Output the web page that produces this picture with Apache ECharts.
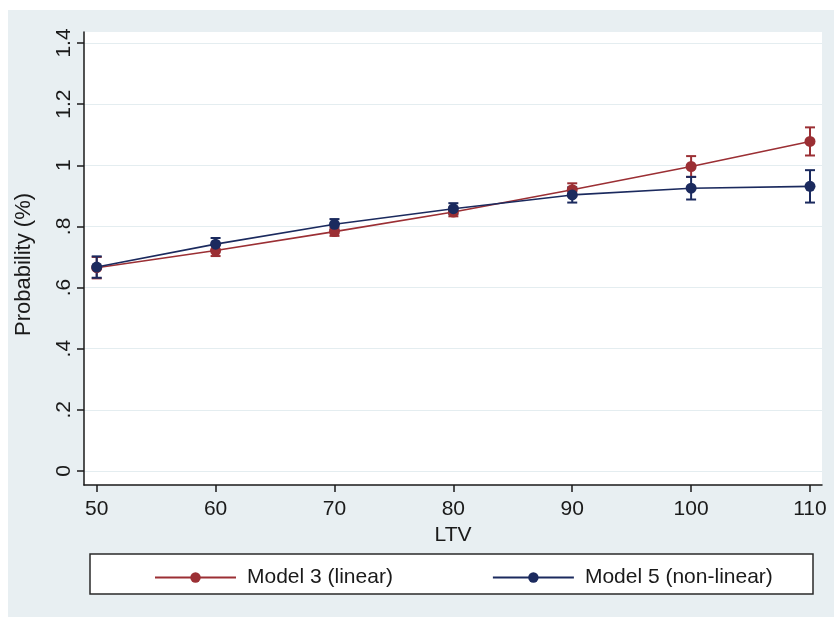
<!DOCTYPE html>
<html>
<head>
<meta charset="utf-8">
<script src="https://cdn.jsdelivr.net/npm/echarts@6/dist/echarts.min.js"></script>
<style>html,body{margin:0;padding:0;background:#fff}#main{width:834px;height:618px}</style>
</head>
<body>
<div id="main"></div>
<script>
// LTV levels on the x axis
var ltv = [50, 60, 70, 80, 90, 100, 110];
// predicted probability and CI half-widths
var model3 = [0.665, 0.721, 0.783, 0.847, 0.920, 0.996, 1.078];
var model3Err = [0.035, 0.018, 0.014, 0.014, 0.021, 0.034, 0.046];
var model5 = [0.667, 0.742, 0.807, 0.858, 0.903, 0.925, 0.931];
var model5Err = [0.035, 0.020, 0.017, 0.018, 0.025, 0.037, 0.053];
var yTicks = [0, 0.2, 0.4, 0.6, 0.8, 1, 1.2, 1.4];
var yTickLabels = ['0', '.2', '.4', '.6', '.8', '1', '1.2', '1.4'];
var seriesNames = ['Model 3 (linear)', 'Model 5 (non-linear)'];

var red = '#9b2f34', navy = '#1b2a5e';
var font = '"Liberation Sans", Arial, sans-serif';

function pts(vals) { return ltv.map(function(x, i) { return [x, vals[i]] }) }
function bars(vals, errs) { return ltv.map(function(x, i) { return [x, vals[i] - errs[i], vals[i] + errs[i]] }) }
function errorBar(color) {
    return function(params, api) {
        var lo = api.coord([api.value(0), api.value(1)]), hi = api.coord([api.value(0), api.value(2)]), w = 5
        var st = {stroke: color, lineWidth: 2}
        return {type: 'group', children: [
            {type: 'line', shape: {x1: lo[0], y1: lo[1], x2: hi[0], y2: hi[1]}, style: st},
            {type: 'line', shape: {x1: lo[0] - w, y1: lo[1], x2: lo[0] + w, y2: lo[1]}, style: st},
            {type: 'line', shape: {x1: hi[0] - w, y1: hi[1], x2: hi[0] + w, y2: hi[1]}, style: st},
        ]}
    }
}

var chart = echarts.init(document.getElementById('main'), null, {renderer: 'canvas'});
chart.setOption({
    backgroundColor: '#ffffff',
    animation: false,
    textStyle: {fontFamily: font},
    graphic: [
        {type: 'rect', z: -10, silent: true, shape: {x: 8, y: 10, width: 826, height: 607}, style: {fill: '#e8eff2'}},
        {type: 'rect', z: -5, silent: true, shape: {x: 90, y: 554, width: 723, height: 40}, style: {fill: '#ffffff', stroke: '#2a2a2a', lineWidth: 1.5}},
    ],
    grid: {left: 84, top: 32, right: 12, bottom: 133, show: true, backgroundColor: '#ffffff', borderWidth: 0, outerBoundsMode: 'none', containLabel: false},
    legend: {
        data: seriesNames, left: 149, top: 562, itemWidth: 81, itemHeight: 13, itemGap: 99, z: 10,
        textStyle: {fontSize: 21, color: '#1a1a1a', fontFamily: font, padding: [0, 0, 0, 6]},
    },
    xAxis: {
        type: 'value', min: 48.93, max: 111.01,
        name: 'LTV', nameLocation: 'middle', nameGap: 34,
        nameTextStyle: {fontSize: 21, color: '#1a1a1a', fontFamily: font},
        axisLine: {onZero: false, lineStyle: {color: '#1a1a1a', width: 1.5}},
        axisTick: {customValues: ltv, length: 7, lineStyle: {color: '#1a1a1a', width: 1.5}},
        axisLabel: {customValues: ltv, margin: 14, fontSize: 21, color: '#1a1a1a', fontFamily: font},
        splitLine: {show: false},
    },
    yAxis: {
        type: 'value', min: -0.046, max: 1.436,
        name: 'Probability (%)', nameLocation: 'middle', nameGap: 49, nameRotate: 90,
        nameTextStyle: {fontSize: 22, color: '#1a1a1a', fontFamily: font, padding: [0, 12, 0, 0]},
        axisLine: {show: true, onZero: false, lineStyle: {color: '#1a1a1a', width: 1.5}},
        axisTick: {show: true, customValues: yTicks, length: 7, lineStyle: {color: '#1a1a1a', width: 1.5}},
        axisLabel: {customValues: yTicks, rotate: 90, margin: 9, fontSize: 21, color: '#1a1a1a', fontFamily: font,
            formatter: function(v) { var i = yTicks.indexOf(v); return i >= 0 ? yTickLabels[i] : '' }},
        splitLine: {show: true, lineStyle: {color: '#e4edf0', width: 1}},
    },
    series: [
        {type: 'custom', name: 'ci3', data: bars(model3, model3Err), renderItem: errorBar(red), encode: {x: 0, y: [1, 2]}, z: 2},
        {type: 'custom', name: 'ci5', data: bars(model5, model5Err), renderItem: errorBar(navy), encode: {x: 0, y: [1, 2]}, z: 2},
        {type: 'line', name: seriesNames[0], data: pts(model3), symbol: 'circle', symbolSize: 11, z: 3,
            lineStyle: {color: red, width: 1.6}, itemStyle: {color: red}},
        {type: 'line', name: seriesNames[1], data: pts(model5), symbol: 'circle', symbolSize: 11, z: 4,
            lineStyle: {color: navy, width: 1.6}, itemStyle: {color: navy}},
    ],
});
</script>
</body>
</html>
